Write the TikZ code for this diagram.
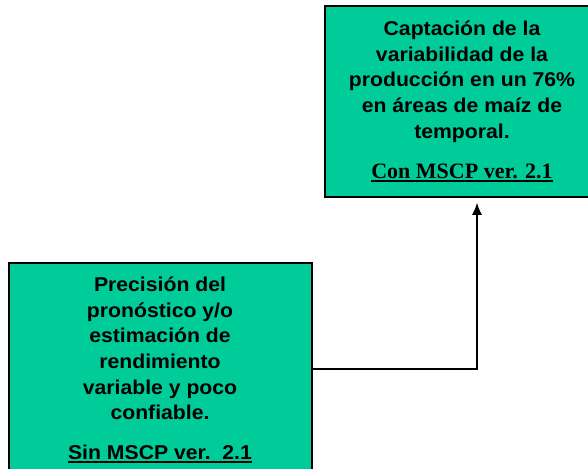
\documentclass[tikz,border=0pt]{standalone}
\usepackage{fontspec}
\usetikzlibrary{arrows.meta}
\newfontfamily\sansb[FakeStretch=1.06]{Liberation Sans}
\newfontfamily\timesb{Liberation Serif}
\definecolor{boxgreen}{RGB}{0,204,153}
\newcommand\myul[1]{\setbox0\hbox{#1}\rlap{\rule[-4pt]{\wd0}{1.6pt}}\box0}
\tikzset{
  greenbox/.style={draw=black, line width=1.5pt, fill=boxgreen, inner sep=0pt},
  boxtext/.style={align=center, inner sep=0pt, anchor=base,
    font={\sansb\bfseries\fontsize{20}{25.7}\selectfont}},
  conn/.style={draw=black, line width=1.3pt, -{Latex[length=12pt,width=10pt]}, shorten >=5pt}
}
\begin{document}
\begin{tikzpicture}[x=1pt,y=1pt]
\useasboundingbox (0,0) rectangle (588,-468);
\node[greenbox, minimum width=275pt, minimum height=191pt] (topbox) at (462.5,-101.5) {};
\node[greenbox, minimum width=303pt, minimum height=212pt] (leftbox) at (160.5,-369) {};
\node[boxtext] (toptext) at (462,-178) {Captación de la\\variabilidad de la\\producción en un 76\%\\en áreas de maíz de\\temporal.\\[14pt]{\timesb\bfseries\fontsize{22}{25.7}\selectfont\myul{Con MSCP ver. 2.1}}};
\node[boxtext] (lefttext) at (160,-459) {Precisión del\\pronóstico y/o\\estimación de\\rendimiento\\variable y poco\\confiable.\\[13.5pt]\myul{Sin MSCP ver.\ \ 2.1}};
\draw[conn] (leftbox.east) -| ([xshift=14.5pt]topbox.south);
\end{tikzpicture}
\end{document}
